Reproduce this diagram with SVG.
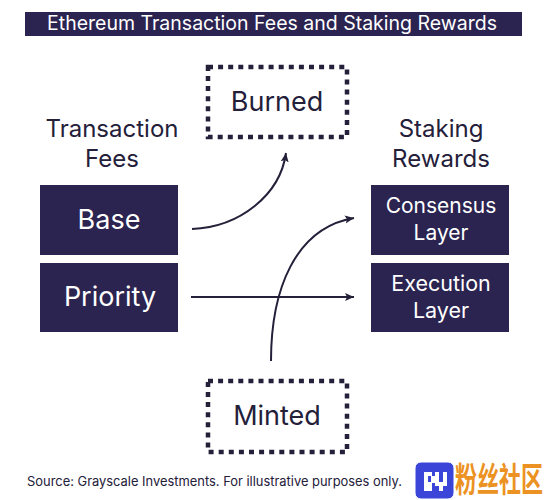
<svg xmlns="http://www.w3.org/2000/svg" width="544" height="500" viewBox="0 0 544 500">
<style>
text{font-family:"Inter","Liberation Sans",sans-serif;text-anchor:middle}
.h{fill:#24203a;font-size:24px}
.b{fill:#24203a;font-size:27px}
.d{fill:#2b2350}
.w{fill:#fff}
.dash{fill:none;stroke:#24203a;stroke-width:4.5;stroke-dasharray:5 5.1}
.c{fill:none;stroke:#24203a;stroke-width:2}
</style>
<defs><marker id="a" markerUnits="userSpaceOnUse" markerWidth="10" markerHeight="10" refX="9" refY="5" orient="auto"><path d="M0 1L9 5L0 9L2 5Z" fill="#24203a"/></marker></defs>
<rect width="544" height="500" fill="#fff"/>
<g id="title"><rect class="d" x="25" y="12" width="497" height="24"/><text class="w" x="272" y="30" font-size="19.5">Ethereum Transaction Fees and Staking Rewards</text></g>
<g id="burned"><rect class="dash" x="208" y="67" width="139" height="70"/><text class="b" x="277" y="111">Burned</text></g>
<g id="minted"><rect class="dash" x="208" y="381" width="139" height="71"/><text class="b" x="277" y="425">Minted</text></g>
<g id="fees-label"><text class="h" x="112" y="137">Transaction</text><text class="h" x="112" y="167">Fees</text></g>
<g id="rewards-label"><text class="h" x="441" y="137">Staking</text><text class="h" x="441" y="167">Rewards</text></g>
<g id="base"><rect class="d" x="40" y="185" width="138" height="70"/><text class="w" x="109" y="229" font-size="27">Base</text></g>
<g id="priority"><rect class="d" x="40" y="263" width="138" height="69"/><text class="w" x="110" y="306" font-size="27">Priority</text></g>
<g id="consensus"><rect class="d" x="371" y="185" width="138" height="70"/><text class="w" x="441" y="213" font-size="21">Consensus</text><text class="w" x="441" y="240" font-size="21">Layer</text></g>
<g id="execution"><rect class="d" x="371" y="263" width="138" height="69"/><text class="w" x="441" y="291" font-size="21.5">Execution</text><text class="w" x="441" y="318" font-size="21.5">Layer</text></g>
<g id="connectors">
<path class="c" d="M192 229C240 227 280 195 286 153" marker-end="url(#a)"/>
<path class="c" d="M191 297H354" marker-end="url(#a)"/>
<path class="c" d="M271 361C271 290 295 228 354 218" marker-end="url(#a)"/>
</g>
<text x="214.5" y="486" font-size="12.9" fill="#24203a">Source: Grayscale Investments. For illustrative purposes only.</text>
<g id="watermark">
<rect x="415" y="462" width="39" height="37" rx="6" fill="#3b46d8" stroke="#fff" stroke-width="1"/>
<path fill="#fff" d="M424 472h8v4h3v-4h4v4h4v-4h4v14h-4v5h-4v-5h-4v-3h-3v8h-8zM428 476v6h3v-6zM439 476v6h4v-6z"/>
<text transform="translate(499 492) scale(1 1.55)" font-size="22" font-weight="700" fill="#ec9222" style="font-family:'Noto Sans CJK SC',sans-serif">粉丝社区</text>
</g>
</svg>
